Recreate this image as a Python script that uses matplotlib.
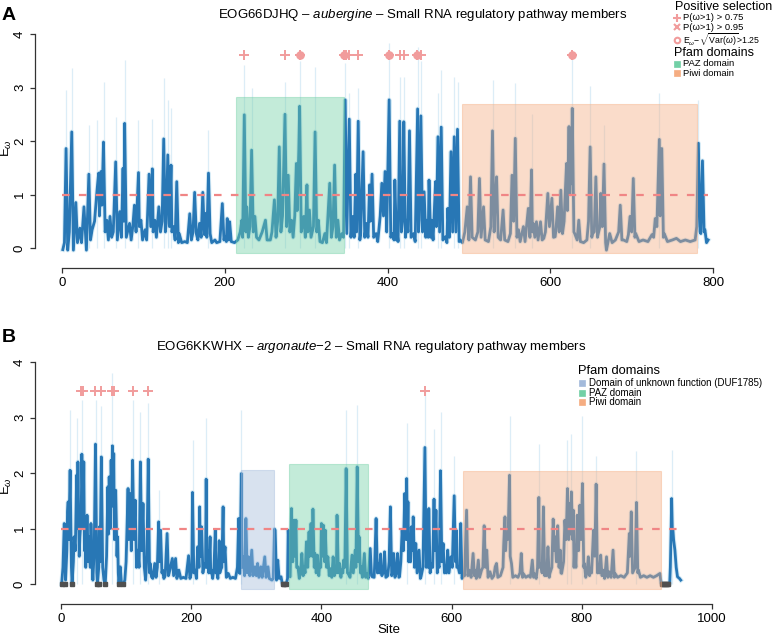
import matplotlib
matplotlib.use("Agg")
import matplotlib.pyplot as plt
from matplotlib.lines import Line2D
from matplotlib.patches import Rectangle

plt.rcParams['font.family'] = ['Liberation Sans', 'DejaVu Sans']
plt.rcParams['mathtext.fontset'] = 'custom'
plt.rcParams['mathtext.rm'] = 'Liberation Sans'
plt.rcParams['mathtext.it'] = 'Liberation Sans:italic'

a_points = [
    (1, -0.03), (3, 0.1), (5, 1.86), (7, -0.04), (9, 0.3), (12, 2.17), (14, -0.04), (17, 0.85), (19, 0.1),
    (22, 0.37), (24, 0.1), (27, 0.77), (30, -0.04), (33, 1.38), (35, 0.15), (37, 0.34), (40, 0.5), (43, 1.07),
    (45, 1.4), (46, 0.6), (48, 1.43), (49, 0.8), (51, 1.98), (53, 0.3), (55, 0.52), (57, 0.15), (59, 0.59),
    (61, 0.2), (63, 0.3), (66, 1.61), (68, 0.15), (71, 0.68), (73, 0.2), (75, 1.49), (76, 0.5), (77, 2.33),
    (79, 0.2), (83, 0.46), (85, 0.15), (87, 0.4), (89, 0.8), (91, 0.3), (94, 1.41), (95, 0.4), (97, 0.52),
    (99, 0.15), (102, 0.34), (104, 0.15), (107, 1.38), (109, 0.4), (111, 1.48), (112, 0.3), (114, 0.52),
    (116, 0.2), (119, 0.77), (121, 0.3), (123, 0.5), (125, 2.04), (127, 0.3), (128, 0.46), (130, 1.74),
    (132, 0.4), (134, 1.55), (135, 0.3), (137, 0.4), (139, 0.15), (141, 1.24), (143, 0.1), (144, 0.27),
    (147, 0.1), (151, 0.12), (154, 0.1), (157, 0.64), (159, 0.15), (161, 0.3), (163, 1.04), (165, 0.27),
    (167, 0.15), (169, 0.46), (171, 0.2), (173, 1.04), (175, 0.25), (177, 0.65), (178, 0.2), (180, 1.4),
    (182, 0.27), (184, 0.1), (188, 0.15), (190, 0.1), (194, 0.12), (197, 0.83), (199, 0.15), (200, 0.21),
    (202, 0.12), (203, 0.55), (205, 0.15), (206, 0.49), (208, 0.12), (212, 0.1), (216, 0.15), (219, 0.3),
    (221, 0.52), (222, 0.2), (224, 2.49), (226, 0.3), (227, 0.77), (229, 0.2), (231, 0.4), (233, 1.83),
    (235, 0.3), (237, 0.59), (239, 0.2), (242, 0.15), (246, 0.3), (250, 0.52), (252, 0.15), (256, 0.15),
    (258, 0.3), (261, 0.9), (263, 0.2), (265, 0.5), (267, 1.89), (269, 0.3), (271, 0.6), (274, 2.5),
    (276, 0.4), (278, 1.36), (280, 0.3), (282, 0.52), (284, 0.2), (286, 0.6), (288, 1.58), (289, 0.7),
    (291, 1.83), (292, 2.65), (294, 0.3), (297, 0.59), (299, 0.2), (301, 1.18), (302, 0.3), (304, 0.71),
    (306, 0.2), (309, 0.4), (311, 2.17), (313, 0.3), (315, 0.52), (317, 0.12), (320, 0.1), (323, 0.27),
    (325, 0.1), (329, 1.21), (331, 0.2), (333, 0.4), (335, 1.55), (337, 0.2), (339, 0.52), (341, 0.15),
    (344, 0.27), (346, 0.2), (348, 2.77), (350, 0.27), (353, 2.41), (355, 0.2), (357, 0.59), (359, 0.2),
    (361, 1.38), (362, 0.3), (364, 2.37), (366, 0.15), (367, 0.27), (370, 1.8), (372, 0.2), (374, 0.46),
    (376, 0.2), (378, 1.18), (379, 0.5), (381, 1.38), (383, 0.2), (386, 0.27), (388, 0.12), (391, 0.6),
    (393, 1.21), (395, 0.6), (397, 1.43), (399, 0.3), (402, 2.77), (404, 0.2), (406, 0.27), (408, 0.15),
    (409, 1.27), (411, 0.15), (412, 0.27), (413, 0.12), (415, 2.37), (417, 0.3), (419, 0.59), (420, 2.36),
    (422, 0.2), (424, 0.52), (425, 0.3), (427, 2.19), (429, 0.2), (432, 0.27), (434, 0.12), (437, 2.6),
    (438, 0.3), (439, 0.52), (441, 2.47), (443, 0.3), (445, 1.05), (447, 0.2), (448, 0.52), (450, 0.2),
    (451, 1.27), (453, 0.2), (454, 0.52), (456, 0.15), (459, 1.24), (460, 0.4), (462, 2.08), (464, 0.3),
    (466, 2.26), (468, 0.15), (471, 0.21), (473, 0.1), (474, 0.74), (476, 0.2), (478, 1.8), (480, 0.3),
    (482, 2.08), (484, 0.3), (486, 2.22), (488, 0.12), (489, 0.15), (492, 0.1), (495, 0.3), (498, 0.77),
    (500, 0.15), (502, 1.33), (504, 0.2), (508, 0.15), (511, 0.3), (513, 1.3), (515, 0.2), (518, 0.77),
    (520, 0.15), (524, 0.12), (527, 0.4), (529, 2.19), (531, 0.3), (532, 0.77), (534, 1.33), (536, 0.2),
    (539, 0.15), (542, 0.71), (544, 0.15), (548, 0.12), (551, 0.27), (553, 1.36), (555, 0.5), (557, 2.05),
    (559, 0.2), (561, 0.34), (563, 0.12), (567, 0.4), (569, 0.12), (573, 0.74), (575, 0.2), (577, 1.46),
    (578, 0.3), (579, 0.46), (581, 0.2), (583, 0.49), (585, 0.15), (588, 0.49), (590, 0.15), (592, 0.18),
    (594, 0.3), (597, 1.02), (599, 0.4), (602, 0.93), (604, 0.2), (606, 0.21), (607, 0.35), (609, 0.77),
    (611, 0.3), (613, 1.08), (615, 0.27), (617, 0.5), (618, 0.9), (620, 1.58), (621, 0.7), (623, 2.27),
    (624, 1.0), (625, 1.77), (626, 1.2), (627, 2.61), (629, 0.3), (630, 0.27), (633, 0.15), (635, 0.52),
    (637, 0.12), (641, 0.1), (645, 0.15), (647, 0.5), (649, 1.89), (651, 0.2), (652, 0.27), (654, 0.3),
    (656, 1.33), (658, 0.2), (659, 0.27), (661, 0.4), (662, 1.02), (664, 0.4), (666, 1.57), (668, 0.1),
    (669, -0.04), (671, 0.12), (673, 0.27), (676, 0.1), (680, 0.15), (684, 0.3), (686, 0.8), (688, 0.15),
    (690, 0.15), (694, 0.12), (696, 0.25), (698, 0.59), (700, 0.3), (702, 1.3), (704, 0.2), (705, 0.27),
    (709, 0.12), (714, 0.15), (720, 0.12), (725, 0.25), (727, 0.2), (729, 0.55), (731, 0.4), (734, 2.03),
    (735, 0.6), (737, 1.86), (739, 0.2), (740, 0.27), (744, 0.12), (750, 0.15), (755, 0.18), (760, 0.12),
    (766, 0.15), (772, 0.12), (778, 0.15), (780, 0.4), (782, 1.96), (784, 0.3), (785, 0.27), (787, 1.63),
    (789, 0.3), (790, 0.34), (792, 0.1), (794, 0.15),
]
# upper credible bound at the larger peaks
a_upper = [
    (5, 2.95), (12, 3.36), (33, 2.3), (43, 2.39), (51, 3.1), (66, 2.45), (77, 3.51), (94, 2.39), (111, 2.42),
    (125, 3.17), (130, 2.77), (134, 2.61), (180, 2.2), (224, 3.42), (233, 3.0), (274, 3.1), (292, 3.5),
    (311, 3.39), (348, 3.45), (353, 2.9), (364, 3.0), (402, 3.83), (415, 3.2), (420, 3.2), (437, 3.76),
    (441, 3.5), (462, 2.9), (466, 3.33), (482, 3.2), (486, 3.1), (529, 3.14), (557, 3.08), (577, 2.5),
    (627, 3.58), (649, 3.02), (666, 2.3), (734, 2.9), (782, 2.77),
]
a_plus_sites = [224, 274, 292, 349, 353, 364, 415, 420, 441]
a_circle_sites = [292, 346, 402, 436, 627]
a_domains = [("PAZ domain", 214, 346, 2.83), ("Piwi domain", 491, 780, 2.69)]

# ---- Panel B: EOG6KKWHX (argonaute-2)
b_points = [
    (1, 0.0), (3, 0.3), (5, 1.09), (7, 0.07), (9, 0.6), (10, 1.3), (11, 1.48), (12, 0.8), (14, 2.05),
    (16, 0.3), (17, 0.0), (19, 0.4), (20, 0.85), (22, 0.6), (24, 1.96), (25, 1.0), (26, 2.2), (28, 0.5),
    (29, 0.85), (31, 1.2), (32, 2.34), (34, 1.0), (35, 2.2), (36, 0.6), (37, 1.21), (38, 0.3), (40, 1.24),
    (42, 0.4), (43, 0.85), (45, 0.3), (46, 1.09), (48, 0.3), (49, 0.07), (51, 0.6), (53, 2.52), (55, 0.2),
    (56, 0.0), (58, 0.3), (59, 1.03), (60, 0.4), (62, 2.29), (64, 0.3), (66, 0.07), (68, 0.0), (70, 0.5),
    (72, 1.75), (73, 0.9), (74, 1.93), (76, 1.0), (77, 2.23), (78, 1.5), (79, 2.49), (80, 1.4), (81, 2.35),
    (82, 0.8), (84, 1.69), (86, 0.5), (87, 0.85), (88, 0.2), (89, 0.0), (91, 0.31), (93, 0.0), (96, 0.0),
    (98, 0.07), (100, 0.4), (103, 1.72), (104, 0.8), (106, 1.63), (108, 0.6), (110, 2.23), (112, 0.8),
    (114, 1.51), (116, 0.3), (118, 0.61), (120, 0.3), (122, 2.2), (124, 0.6), (126, 1.45), (128, 0.3),
    (130, 0.07), (132, 0.5), (134, 2.25), (136, 0.2), (137, 0.37), (139, 0.13), (141, 0.1), (144, 0.37),
    (146, 0.12), (148, 0.3), (150, 1.12), (151, 0.4), (153, 0.97), (155, 0.2), (156, 0.25), (158, 0.1),
    (160, 0.15), (163, 0.91), (165, 0.15), (166, 0.19), (168, 0.3), (171, 0.46), (173, 0.15), (176, 0.46),
    (178, 0.1), (181, 0.25), (184, 0.1), (188, 0.12), (192, 0.1), (196, 0.51), (198, 0.1), (199, 0.13),
    (201, 0.3), (202, 1.65), (204, 0.2), (206, 0.25), (208, 0.1), (210, 0.67), (212, 0.3), (213, 1.39),
    (214, 0.5), (216, 1.03), (218, 0.2), (220, 0.37), (222, 0.3), (223, 1.89), (224, 0.3), (225, 0.61),
    (227, 0.2), (229, 0.85), (230, 0.2), (231, 0.25), (233, 0.1), (235, 0.3), (237, 0.97), (238, 0.2),
    (239, 0.25), (241, 0.1), (243, 0.78), (244, 0.2), (245, 0.25), (247, 0.3), (249, 1.39), (250, 0.4),
    (252, 0.67), (254, 0.12), (257, 0.19), (260, 0.1), (264, 0.12), (268, 0.1), (271, 0.3), (273, 1.18),
    (274, 0.2), (275, 0.19), (277, 1.99), (278, 0.3), (280, 0.49), (282, 0.15), (284, 1.18), (286, 0.2),
    (288, 0.49), (290, 0.15), (293, 0.61), (295, 0.15), (298, 0.31), (300, 0.15), (302, 0.37), (304, 0.12),
    (307, 0.31), (309, 0.12), (313, 0.49), (315, 0.12), (318, 0.31), (320, 0.1), (324, 0.07), (326, 0.1),
    (328, 0.99), (329, 0.97), (331, 0.07), (333, 0.43), (335, 0.1), (338, 0.13), (340, 0.0), (346, 0.0),
    (348, 0.1), (349, 0.97), (352, 0.13), (354, 1.36), (356, 0.4), (358, 1.15), (359, 0.5), (361, 1.15),
    (362, 0.3), (364, 0.31), (366, 0.1), (368, 0.2), (370, 0.55), (372, 0.15), (373, 0.31), (375, 0.2),
    (377, 0.76), (379, 0.3), (381, 0.94), (382, 0.5), (384, 1.09), (386, 0.5), (387, 1.35), (389, 0.3),
    (390, 0.55), (392, 0.2), (394, 0.52), (396, 0.15), (397, 0.31), (399, 0.3), (400, 1.09), (401, 0.5),
    (403, 1.06), (405, 0.4), (406, 0.97), (408, 0.3), (410, 0.49), (412, 0.15), (413, 0.28), (416, 0.12),
    (418, 0.49), (420, 0.15), (421, 0.31), (423, 0.2), (424, 1.24), (426, 0.2), (428, 0.37), (430, 0.12),
    (431, 0.25), (433, 0.2), (434, 0.43), (436, 0.3), (438, 2.08), (440, 0.2), (441, 0.19), (444, 0.12),
    (447, 0.52), (449, 0.2), (452, 0.61), (453, 0.3), (455, 2.11), (457, 0.4), (458, 0.85), (460, 0.2),
    (461, 0.31), (463, 0.12), (466, 0.55), (468, 0.12), (469, 0.19), (472, 0.1), (475, 0.64), (477, 0.15),
    (478, 0.13), (481, 0.12), (482, 0.4), (484, 1.18), (486, 0.2), (487, 0.37), (489, 0.2), (491, 0.54),
    (493, 0.15), (494, 0.25), (496, 0.2), (497, 0.58), (499, 0.12), (502, 0.15), (504, 0.4), (506, 1.39),
    (508, 0.15), (509, 0.19), (511, 0.55), (513, 0.12), (515, 0.2), (517, 0.55), (519, 0.12), (520, 0.13),
    (522, 0.4), (524, 0.97), (526, 0.6), (528, 1.63), (530, 0.8), (531, 1.9), (532, 0.8), (533, 1.48),
    (534, 0.4), (535, 0.61), (537, 0.4), (538, 1.03), (540, 0.6), (541, 1.21), (543, 0.3), (545, 0.73),
    (547, 0.2), (550, 0.61), (552, 0.1), (553, 0.13), (556, 0.3), (559, 2.46), (561, 0.3), (562, 0.55),
    (564, 0.3), (565, 1.36), (567, 0.2), (569, 0.37), (571, 0.3), (573, 1.53), (574, 0.6), (576, 1.33),
    (578, 0.2), (579, 0.37), (581, 0.3), (583, 2.04), (585, 0.4), (587, 0.73), (589, 0.2), (590, 0.31),
    (592, 0.2), (594, 0.61), (596, 0.2), (599, 0.49), (601, 0.3), (604, 1.59), (606, 0.4), (607, 0.97),
    (608, 0.3), (610, 0.31), (612, 0.2), (614, 1.09), (616, 0.1), (617, 0.13), (620, 0.15), (623, 1.33),
    (625, 0.15), (627, 0.25), (630, 0.12), (633, 0.55), (635, 0.15), (636, 0.25), (638, 0.1), (641, 0.43),
    (643, 0.12), (646, 0.25), (648, 0.3), (650, 1.05), (652, 0.3), (654, 0.61), (656, 0.12), (659, 0.22),
    (662, 0.1), (665, 0.15), (667, 0.31), (669, 0.37), (671, 0.12), (675, 0.15), (679, 0.3), (680, 0.7),
    (682, 1.21), (683, 0.6), (684, 0.85), (686, 0.8), (687, 1.0), (689, 1.96), (690, 0.5), (692, 0.37),
    (694, 0.12), (698, 0.15), (702, 0.12), (705, 0.2), (707, 0.55), (709, 0.12), (710, 0.19), (714, 0.12),
    (718, 0.15), (721, 0.12), (724, 0.43), (726, 0.12), (727, 0.19), (730, 0.1), (732, 0.3), (734, 1.56),
    (735, 0.3), (737, 0.37), (739, 0.2), (741, 1.39), (743, 0.15), (744, 0.25), (746, 0.15), (748, 0.67),
    (750, 0.12), (751, 0.19), (754, 0.3), (756, 1.17), (758, 0.6), (759, 0.85), (761, 0.4), (763, 1.05),
    (765, 0.3), (767, 0.61), (768, 0.2), (769, 0.19), (772, 0.4), (774, 1.15), (776, 0.8), (778, 1.72),
    (780, 0.8), (782, 1.45), (783, 0.9), (784, 1.66), (786, 0.8), (787, 1.33), (788, 0.3), (789, 0.61),
    (791, 0.3), (793, 1.24), (795, 0.6), (797, 1.42), (799, 0.8), (801, 1.81), (803, 0.3), (804, 0.37),
    (806, 0.12), (808, 0.2), (810, 0.49), (812, 0.15), (813, 0.25), (815, 0.2), (818, 0.97), (820, 0.5),
    (822, 1.8), (824, 0.2), (825, 0.25), (827, 0.2), (829, 0.52), (831, 0.15), (833, 0.25), (835, 0.1),
    (838, 0.49), (840, 0.12), (842, 0.22), (845, 0.12), (848, 0.61), (850, 0.12), (851, 0.19), (855, 0.12),
    (860, 0.15), (865, 0.12), (870, 0.2), (873, 0.91), (874, 0.5), (876, 1.3), (878, 0.2), (880, 0.25),
    (882, 0.3), (884, 1.47), (886, 0.2), (887, 0.25), (890, 0.12), (895, 0.15), (900, 0.12), (905, 0.15),
    (910, 0.12), (915, 0.15), (920, 0.19), (922, 0.0), (935, 0.0), (936, 0.3), (937, 0.85), (938, 1.54),
    (939, 1.0), (940, 0.97), (941, 0.8), (943, 0.61), (945, 0.3), (947, 0.13), (950, 0.1), (952, 0.07),
]
b_upper = [
    (14, 3.14), (24, 3.0), (32, 3.32), (53, 3.32), (62, 3.2), (79, 3.8), (110, 3.32), (122, 3.1), (134, 3.26),
    (150, 1.7), (202, 2.6), (223, 3.0), (277, 3.14), (438, 3.14), (455, 3.23), (531, 2.9), (559, 3.5),
    (573, 2.8), (583, 3.1), (604, 2.3), (689, 3.02), (734, 2.53), (778, 2.6), (784, 2.7), (801, 3.02),
    (822, 2.3), (884, 2.4), (938, 2.41),
]
b_plus_sites = [31, 34, 52, 62, 78, 81, 111, 134, 559]
b_circle_sites = []
b_gap_sites = [1, 6, 17, 56, 58, 68, 89, 96, 341, 343, 345, 923, 925, 927, 929, 931, 933]
b_domains = [("Domain of unknown function (DUF1785)", 276, 327, 2.05),
             ("PAZ domain", 350, 472, 2.17), ("Piwi domain", 617, 921, 2.04)]

domain_colors = {"PAZ domain": "#72d0a6", "Piwi domain": "#f5ad82",
                 "Domain of unknown function (DUF1785)": "#a3badb"}
line_col = "#2877b5"
halo_col = "#d6ebf6"
pink = "#f19c9c"
W, H = 778, 637


def fx(px):
    return px / W


def fy(py):
    return 1 - py / H


def panel(ax, points, upper, plus_sites, circle_sites, domains, xmax, marker_y, gaps=()):
    sites = [p[0] for p in points]
    vals = [p[1] for p in points]
    ax.vlines([u[0] for u in upper], 0, [u[1] for u in upper], color='#dcedf7', lw=0.9, zorder=1)
    ax.plot(sites, vals, color=halo_col, lw=3.4, zorder=2, solid_joinstyle='round')
    ax.plot(sites, vals, color=line_col, lw=2.0, zorder=3, solid_joinstyle='round')
    if gaps:
        ax.plot(gaps, [0] * len(gaps), 's', color='#505050', ms=2.2, zorder=4)
    for name, x0, x1, top in domains:
        c = domain_colors[name]
        ax.add_patch(Rectangle((x0, -0.09), x1 - x0, top + 0.09, facecolor=c, alpha=0.42,
                               edgecolor=c, lw=0.8, zorder=5))
    ax.plot([0, sites[-1]], [1, 1], color='#f08585', lw=1.6, dashes=(3.4, 4.2), zorder=6)
    ax.plot(plus_sites, [marker_y] * len(plus_sites), '+', color=pink, ms=7, mew=1.4, zorder=7)
    if circle_sites:
        ax.plot(circle_sites, [marker_y] * len(circle_sites), 'o', mfc=pink, mec=pink,
                ms=5, mew=1.2, zorder=7)
        ax.plot(circle_sites, [marker_y] * len(circle_sites), '+', color=pink, ms=7, mew=1.4, zorder=7)
    for s in ['top', 'right']:
        ax.spines[s].set_visible(False)
    ax.spines['left'].set_bounds(0, 4)
    ax.spines['bottom'].set_bounds(0, xmax)
    for s in ['left', 'bottom']:
        ax.spines[s].set_color('#333333')
        ax.spines[s].set_linewidth(0.9)
    ax.set_yticks([0, 1, 2, 3, 4])
    ax.set_xticks(range(0, xmax + 1, 200))
    ax.tick_params(axis='both', labelsize=9.5, length=3.5, width=0.9, color='#333333', pad=3)
    for lab in ax.get_yticklabels():
        lab.set_rotation(90)
        lab.set_va('center')


fig = plt.figure(figsize=(W / 100, H / 100), dpi=100)

# Panel A axes: y axis line at px 35, x axis line at py 268
axA = fig.add_axes([fx(35), fy(268), (740 - 35) / W, (268 - 30) / H])
axA.set_xlim(-27 / 0.8138, (740 - 62) / 0.8138)
axA.set_ylim(-20 / 53.5, (248 - 30) / 53.5)
panel(axA, a_points, a_upper, a_plus_sites, a_circle_sites, a_domains, 800, 3.6)

axB = fig.add_axes([fx(35), fy(604), (740 - 35) / W, (604 - 358) / H])
axB.set_xlim(-26 / 0.651, (740 - 61) / 0.651)
axB.set_ylim(-20 / 55.5, (584 - 358) / 55.5)
panel(axB, b_points, b_upper, b_plus_sites, b_circle_sites, b_domains, 1000, 3.47, b_gap_sites)

# titles, panel letters, axis labels
fig.text(fx(423), fy(15), r"EOG66DJHQ – $\mathit{aubergine}$ – Small RNA regulatory pathway members",
         ha='center', va='center', fontsize=9.5)
fig.text(fx(371), fy(347), r"EOG6KKWHX – $\mathit{argonaute{-}2}$ – Small RNA regulatory pathway members",
         ha='center', va='center', fontsize=9.5)
fig.text(fx(9), fy(15), "A", ha='center', va='center', fontsize=14, fontweight='bold')
fig.text(fx(9), fy(338), "B", ha='center', va='center', fontsize=14, fontweight='bold')
fig.text(fx(6.5), fy(148), r"E$_\omega$", rotation=90, ha='center', va='center', fontsize=9.5)
fig.text(fx(6.5), fy(486), r"E$_\omega$", rotation=90, ha='center', va='center', fontsize=9.5)
fig.text(fx(389), fy(630), "Site", ha='center', va='center', fontsize=9.5)


def legend_entry(px, py, text, marker, color, mfc=None, size=6.8, ms=4.5, mew=1.2, tx=6):
    fig.add_artist(Line2D([fx(px)], [fy(py)], marker=marker, color=color,
                          mfc=color if mfc is None else mfc, mec=color, ms=ms, mew=mew,
                          transform=fig.transFigure, ls='none'))
    fig.text(fx(px + tx), fy(py), text, ha='left', va='center', fontsize=size)


# legend A
fig.text(fx(675), fy(6.5), "Positive selection", ha='left', va='center', fontsize=9)
legend_entry(677, 17.5, "P(ω>1) > 0.75", '+', pink, ms=5.5, mew=1.5)
legend_entry(677, 27, "P(ω>1) > 0.95", 'x', pink, ms=4, mew=1.5)
legend_entry(677, 39.5, r"E$_\omega$$-\sqrt{\mathrm{Var}(\omega)}$>1.25", 'o', pink, mfc='none',
             ms=4, mew=1.5, size=6.3)
fig.text(fx(674), fy(53), "Pfam domains", ha='left', va='center', fontsize=9)
for i, (name, *_rest) in enumerate(a_domains):
    legend_entry(677, 63.5 + 9.5 * i, name, 's', domain_colors[name], ms=4, mew=0.5)

# legend B
fig.text(fx(578), fy(371), "Pfam domains", ha='left', va='center', fontsize=9.3)
for i, (name, *_rest) in enumerate(b_domains):
    legend_entry(582, 383 + 9.5 * i, name, 's', domain_colors[name], size=7.0, ms=4, mew=0.5, tx=7)

fig.savefig("out.png", dpi=100)
